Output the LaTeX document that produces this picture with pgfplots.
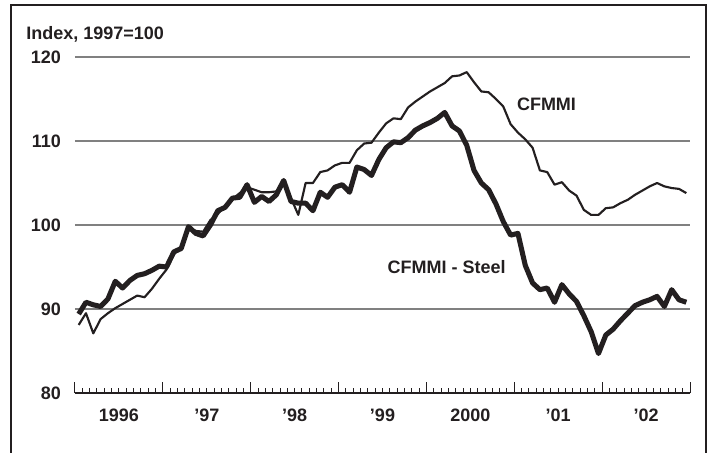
\documentclass[border=0pt]{standalone}
\usepackage{pgfplots}
\pgfplotsset{compat=1.18}
\usepackage{fontspec}
\setmainfont{Liberation Sans}
\definecolor{ink}{RGB}{35,31,32}
\definecolor{gridc}{RGB}{128,128,128}
\newcommand\lab{\fontsize{13.5}{16}\selectfont\bfseries}
\pgfplotstableread{
m cf st
0.5 88.1 89.4
1.5 89.5 90.8
2.5 87.1 90.5
3.5 88.8 90.3
4.5 89.5 91.2
5.5 90.1 93.3
6.5 90.6 92.5
7.5 91.1 93.4
8.5 91.6 94.0
9.5 91.4 94.2
10.5 92.4 94.6
11.5 93.6 95.1
12.5 94.7 95.0
13.5 96.5 96.8
14.5 97.4 97.2
15.5 99.6 99.8
16.5 99.3 99.0
17.5 99.2 98.7
18.5 100.6 100.0
19.5 101.3 101.7
20.5 102.3 102.1
21.5 103.1 103.2
22.5 103.8 103.3
23.5 104.5 104.8
24.5 104.2 102.7
25.5 103.9 103.4
26.5 103.9 102.8
27.5 104.0 103.6
28.5 105.3 105.3
29.5 103.2 102.8
30.5 101.2 102.6
31.5 105.0 102.6
32.5 105.0 101.7
33.5 106.3 103.9
34.5 106.5 103.3
35.5 107.1 104.5
36.5 107.4 104.8
37.5 107.4 103.9
38.5 108.9 106.9
39.5 109.7 106.6
40.5 109.8 105.9
41.5 111.0 107.8
42.5 112.1 109.2
43.5 112.7 109.9
44.5 112.6 109.8
45.5 114.0 110.4
46.5 114.7 111.3
47.5 115.3 111.8
48.5 115.9 112.2
49.5 116.4 112.7
50.5 116.9 113.4
51.5 117.7 111.8
52.5 117.8 111.2
53.5 118.2 109.5
54.5 117.0 106.5
55.5 115.9 105.0
56.5 115.8 104.2
57.5 115.0 102.5
58.5 114.1 100.4
59.5 112.0 98.8
60.5 111.0 99.0
61.5 110.2 95.2
62.5 109.2 93.1
63.5 106.5 92.3
64.5 106.3 92.5
65.5 104.8 90.8
66.5 105.1 92.9
67.5 104.1 91.8
68.5 103.5 90.9
69.5 101.8 89.2
70.5 101.2 87.3
71.5 101.2 84.7
72.5 102.0 86.9
73.5 102.1 87.6
74.5 102.6 88.6
75.5 103.0 89.5
76.5 103.6 90.4
77.5 104.1 90.8
78.5 104.6 91.1
79.5 105.0 91.5
80.5 104.6 90.3
81.5 104.4 92.3
82.5 104.3 91.1
83.5 103.8 90.8
}\datatable
\begin{document}
\begin{tikzpicture}
\path[use as bounding box] (0pt,0pt) rectangle (533.25pt,-339.75pt);
\draw[ink, line width=1.8pt] (8.25pt,-342pt) -- (8.25pt,-3.75pt) -- (529.5pt,-3.75pt) -- (529.5pt,-342pt);
\node[anchor=base west, inner sep=0pt, text=ink, font=\lab] at (19.5pt,-30pt) {Index, 1997=100};
\begin{axis}[
  at={(56.25pt,-294.75pt)}, anchor=south west,
  scale only axis, width=461.25pt, height=252pt,
  xmin=0, xmax=84, ymin=80, ymax=120,
  axis x line=bottom, axis y line=left,
  x axis line style={-, line width=1.3pt, ink},
  y axis line style={draw=none},
  xtick={0,12,...,84}, xticklabels={},
  minor x tick num=11,
  tick align=inside,
  major tick length=8.25pt, minor tick length=4pt,
  xtick style={ink, line width=0.75pt},
  minor x tick style={ink, line width=0.75pt},
  extra x ticks={6,18,30,42,54,66,78},
  extra x tick labels={1996,’97,’98,’99,2000,’01,’02},
  extra x tick style={tick style={draw=none}, xticklabel style={yshift=-8.5pt}},
  ytick={80,90,100,110,120},
  ytick style={draw=none},
  ymajorgrids, grid style={gridc, line width=0.9pt},
  tick label style={font=\lab, text=ink},
  yticklabel style={xshift=-7pt},
  /pgf/number format/assume math mode=true,
  clip=false,
]
\addplot[ink, line width=1.6pt, line join=round] table[x=m, y=cf] {\datatable};
\addplot[ink, line width=3.8pt, line join=round] table[x=m, y=st] {\datatable};
\node[font=\lab, text=ink, inner sep=0pt] at (axis cs:64.4,114.35) {CFMMI};
\node[font=\lab, text=ink, inner sep=0pt] at (axis cs:50.75,94.94) {CFMMI - Steel};
\end{axis}
\end{tikzpicture}
\end{document}
